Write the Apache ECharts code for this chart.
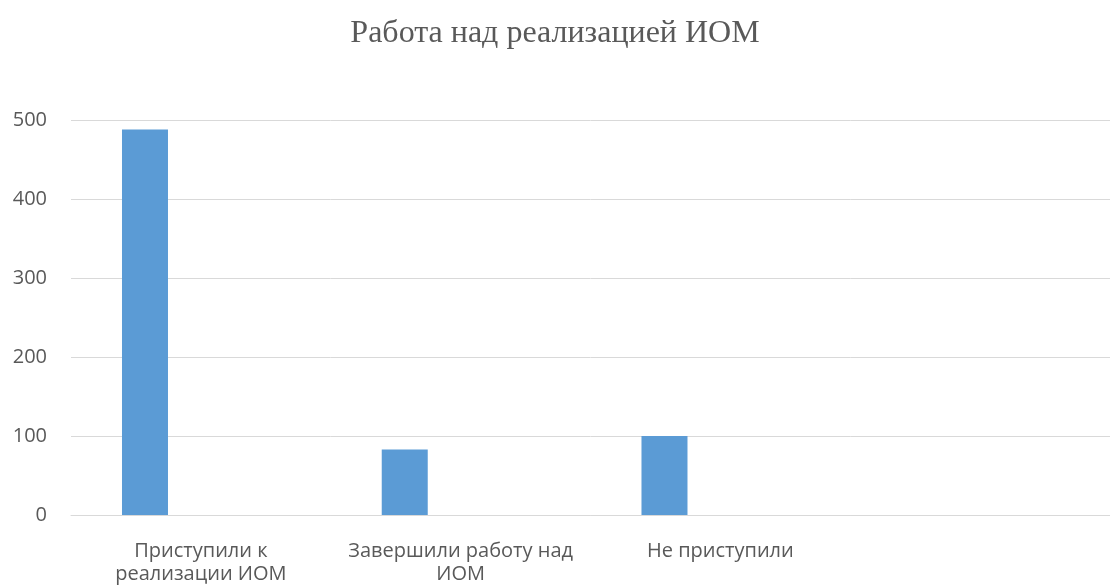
<!DOCTYPE html>
<html>
<head>
<meta charset="utf-8">
<script src="https://cdn.jsdelivr.net/npm/echarts@6/dist/echarts.min.js"></script>
<style>
  html, body { margin: 0; padding: 0; background: #fff; }
  #main { width: 1110px; height: 586px; }
</style>
</head>
<body>
<div id="main"></div>
<script>
// данные диаграммы
var categories = ['Приступили к\nреализации ИОМ', 'Завершили работу над\nИОМ', 'Не приступили', ''];
var values = [488, 83, 100, '-'];
var emptySeries = ['-', '-', '-', '-']; // вторая (пустая) серия, сдвигает столбцы влево
var yTicks = { min: 0, max: 500, interval: 100 };

var myChart = echarts.init(document.getElementById('main'));
var option = {
  animation: false,
  title: {
    text: 'Работа над реализацией ИОМ',
    left: 'center',
    top: 13,
    textStyle: {
      fontFamily: '"Liberation Serif", "DejaVu Serif", serif',
      fontSize: 32,
      fontWeight: 'normal',
      color: '#595959'
    }
  },
  grid: { left: 71, right: 0, top: 120, bottom: 71 },
  xAxis: {
    type: 'category',
    data: categories,
    axisLine: { show: true, lineStyle: { color: '#D9D9D9', width: 1 } },
    axisTick: { show: false },
    axisLabel: {
      color: '#595959',
      fontFamily: '"Open Sans", "Noto Sans", sans-serif',
      fontSize: 20,
      lineHeight: 23,
      margin: 25,
      interval: 0
    }
  },
  yAxis: {
    type: 'value',
    min: yTicks.min,
    max: yTicks.max,
    interval: yTicks.interval,
    axisLine: { show: false },
    axisTick: { show: false },
    splitLine: { lineStyle: { color: '#D9D9D9', width: 1 } },
    axisLabel: {
      color: '#595959',
      fontFamily: '"Open Sans", "Noto Sans", sans-serif',
      fontSize: 20,
      margin: 24
    }
  },
  series: [
    {
      type: 'bar',
      data: values,
      barWidth: 46,
      barGap: '143%',
      itemStyle: { color: '#5B9BD5' }
    },
    {
      type: 'bar',
      data: emptySeries,
      barWidth: 46,
      itemStyle: { color: '#ED7D31' }
    }
  ]
};
myChart.setOption(option);
</script>
</body>
</html>
